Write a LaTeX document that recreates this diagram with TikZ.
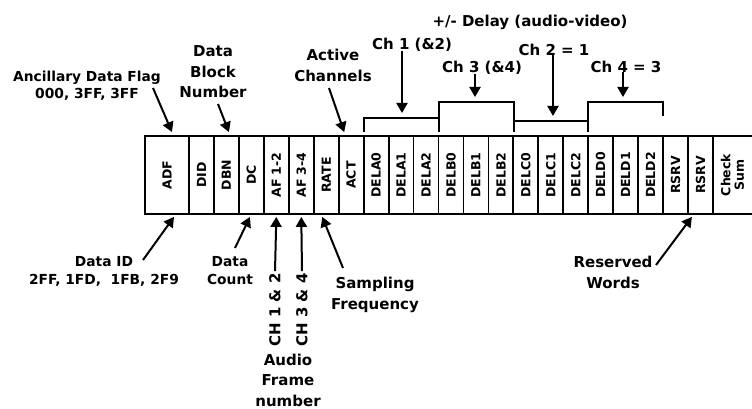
\documentclass[tikz,border=0pt]{standalone}
\usepackage{fontspec}
\setmainfont{DejaVu Sans}
\usetikzlibrary{arrows.meta}
\begin{document}
\begin{tikzpicture}[x=1pt,y=-1pt,
  lbl/.style={font=\fontsize{15}{20.5}\selectfont\bfseries, align=center, inner sep=0pt},
  lbltight/.style={lbl, font=\fontsize{13.8}{17.5}\selectfont\bfseries},
  cell/.style={draw, line width=1.8pt, minimum height=78pt, inner sep=0pt,
               font=\fontsize{12.5}{13.5}\selectfont\bfseries},
  arr/.style={line width=2pt, -{Triangle[length=10pt,width=11pt]}},
  brk/.style={line width=2pt}]
\useasboundingbox (0,0) rectangle (752,409);
\clip (0,0) rectangle (752,409);

% ---- cells ----
\node[cell, minimum width=44pt] (adf) at (167,175) {\rotatebox{90}{ADF}};
\foreach \n/\t [count=\i from 0] in {did/DID, dbn/DBN, dc/DC, afa/AF 1-2, afb/AF 3-4,
    rate/RATE, act/ACT, dela0/DELA0, dela1/DELA1, dela2/DELA2,
    delb0/DELB0, delb1/DELB1, delb2/DELB2, delc0/DELC0, delc1/DELC1, delc2/DELC2,
    deld0/DELD0, deld1/DELD1, deld2/DELD2, rsrva/RSRV, rsrvb/RSRV}
  \node[cell, minimum width=24.95pt] (\n) at ({189+24.95*(\i+0.5)},175) {\rotatebox{90}{\t}};
\node[cell, minimum width=43pt] (cks) at (734.5,175)
  {\rotatebox{90}{\begin{tabular}{@{}c@{}}Check\\Sum\end{tabular}}};

% ---- brackets ----
\draw[brk] (363.7,132) -- (363.7,118) -- (438.6,118) -- (438.6,132);
\draw[brk] (438.6,118) -- (438.6,102) -- (513.5,102) -- (513.5,132);
\draw[brk] (513.5,121) -- (588.3,121) -- (588.3,132);
\draw[brk] (588.3,121) -- (588.3,102) -- (663.2,102) -- (663.2,116);
\coordinate (bA) at (402,113);
\coordinate (bB) at (475,97);
\coordinate (bC) at (553,116);
\coordinate (bD) at (623,97);

% ---- top labels ----
\node[lbltight] (adfl) at (87,85.5) {Ancillary Data Flag\\000, 3FF, 3FF};
\node[lbl] (dbnl) at (213,72) {Data\\Block\\Number};
\node[lbl] (actl) at (333,65.5) {Active\\Channels};
\node[lbl] (dell) at (530,22) {+/- Delay (audio-video)};
\node[lbl] (ch1l) at (412,45) {Ch 1 (\&2)};
\node[lbl] (ch3l) at (482,68) {Ch 3 (\&4)};
\node[lbl] (ch2l) at (554,50) {Ch 2 = 1};
\node[lbl] (ch4l) at (626,67) {Ch 4 = 3};

% ---- bottom labels ----
\node[lbltight] (didl) at (104,271.5) {Data ID\\2FF, 1FD,\ \ 1FB, 2F9};
\node[lbltight] (dcl) at (230,270.5) {Data\\Count};
\node[lbl, rotate=90] (ch12l) at (275,310) {CH 1 \& 2};
\node[lbl, rotate=90] (ch34l) at (302,310) {CH 3 \& 4};
\node[lbl] (afl) at (288,380) {Audio\\Frame\\number};
\node[lbl] (ratel) at (375,295) {Sampling\\Frequency};
\node[lbl] (rsvl) at (613,272.5) {Reserved\\Words};

% ---- arrows ----
\coordinate (sADF) at (153,88);
\coordinate (sDBN) at (218,104);
\coordinate (sACT) at (329,88);
\coordinate (sDID) at (143,260);
\coordinate (sDC)  at (235,248);
\coordinate (sRATE) at (343,268);
\coordinate (sRSV) at (656,265);
\draw[arr] (sADF) -- ([xshift=5pt,yshift=3pt]adf.north);
\draw[arr] (sDBN) -- ([xshift=2.5pt,yshift=3pt]dbn.north);
\draw[arr] (sACT) -- ([xshift=-7pt,yshift=3pt]act.north);
\draw[arr] (ch1l.south -| bA) ++(0,-1) -- (bA);
\draw[arr] (ch3l.south -| bB) ++(0,-1) -- (bB);
\draw[arr] (ch2l.south -| bC) ++(0,-1) -- (bC);
\draw[arr] (ch4l.south -| bD) ++(0,-1) -- (bD);
\draw[arr] (sDID) -- ([xshift=7pt,yshift=-2pt]adf.south);
\draw[arr] (sDC) -- ([xshift=-1.4pt,yshift=-2pt]dc.south);
\draw[arr] ([yshift=2pt]ch12l.east) -- ([yshift=-2pt]afa.south);
\draw[arr] ([yshift=2pt]ch34l.east) -- ([yshift=-2pt]afb.south);
\draw[arr] (sRATE) -- ([xshift=-4pt,yshift=-2pt]rate.south);
\draw[arr] (sRSV) -- ([xshift=3pt,yshift=-2pt]rsrva.south east);
\end{tikzpicture}
\end{document}
